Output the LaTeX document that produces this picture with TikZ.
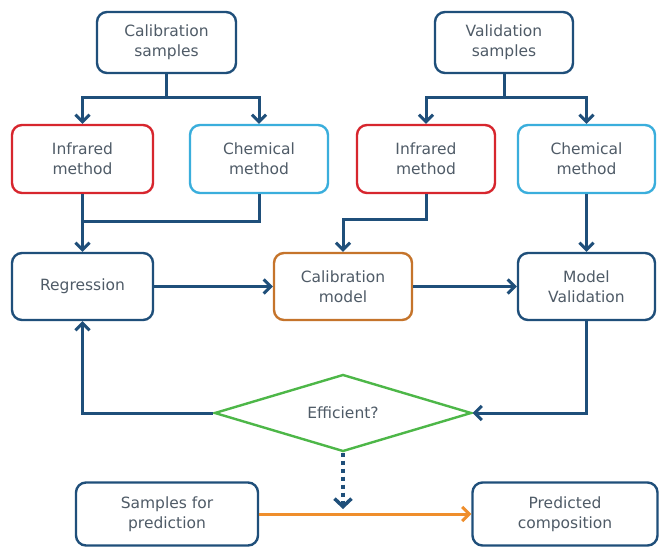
\documentclass[tikz,border=0pt]{standalone}
\usepackage{fontspec}
\setmainfont{DejaVu Sans}
\usetikzlibrary{shapes.geometric,arrows.meta}
\definecolor{navy}{HTML}{1F4F7A}
\definecolor{redb}{HTML}{D7262E}
\definecolor{lblue}{HTML}{3AAEDC}
\definecolor{brown}{HTML}{C5742B}
\definecolor{grn}{HTML}{4DB748}
\definecolor{orng}{HTML}{EF8E2C}
\definecolor{txt}{HTML}{4F5B67}
\tikzset{
  x=1pt, y=-1pt,
  box/.style={draw=navy, line width=2.4pt, rounded corners=10pt, fill=white,
    align=center, text=txt, inner sep=0pt,
    font=\fontsize{15.5}{20}\selectfont},
  conn/.style={draw=navy, line width=3pt},
  arr/.style={conn, -{Straight Barb[length=7pt,width=14pt,line width=3pt]}},
  oarr/.style={draw=orng, line width=3pt, -{Straight Barb[length=7pt,width=14pt,line width=3pt]}},
  darr/.style={draw=navy, line width=4pt, dash pattern=on 4pt off 4pt, -{Straight Barb[length=8pt,width=17pt,line width=3.5pt]}},
}
\begin{document}
\begin{tikzpicture}
\useasboundingbox[fill=white] (0,0) rectangle (659,548);
\node[box, minimum width=139pt, minimum height=61pt] (cs) at (166.5,42.5) {Calibration\\samples};
\node[box, minimum width=138pt, minimum height=61pt] (vs) at (504,42.5) {Validation\\samples};
\node[box, draw=redb, minimum width=141pt, minimum height=68pt] (irl) at (82.5,159) {Infrared\\method};
\node[box, draw=lblue, minimum width=138pt, minimum height=68pt] (chl) at (259,159) {Chemical\\method};
\node[box, draw=redb, minimum width=138pt, minimum height=68pt] (irr) at (426,159) {Infrared\\method};
\node[box, draw=lblue, minimum width=137pt, minimum height=68pt] (chr) at (586.5,159) {Chemical\\method};
\node[box, minimum width=141pt, minimum height=67pt] (reg) at (82.5,286.5) {Regression};
\node[box, draw=brown, minimum width=138pt, minimum height=67pt] (cal) at (343,286.5) {Calibration\\model};
\node[box, minimum width=137pt, minimum height=67pt] (mv) at (586.5,286.5) {Model\\Validation};
\node[diamond, aspect=3.34, draw=grn, line width=2.4pt, fill=white, text=txt, inner sep=0pt,
  minimum width=257pt, minimum height=77pt, font=\fontsize{15.5}{20}\selectfont] (dia) at (343,413) {Efficient?};
\node[box, minimum width=182pt, minimum height=63pt] (sp) at (167,514) {Samples for\\prediction};
\node[box, minimum width=185pt, minimum height=63pt] (pc) at (565,514) {Predicted\\composition};
\coordinate (j1) at (166.5,98);
\coordinate (j2) at (504,98);
\coordinate (m1) at (82.5,222);
\coordinate (m2) at (426,220);
\coordinate (dd) at (343,509);
% calibration split
\draw[conn] (cs.south) -- (j1);
\draw[arr] (j1) -| (irl.north);
\draw[arr] (j1) -| (chl.north);
% validation split
\draw[conn] (vs.south) -- (j2);
\draw[arr] (j2) -| (irr.north);
\draw[arr] (j2) -| (chr.north);
% merge to regression
\draw[arr] (irl.south) -- (reg.north);
\draw[conn] (chl.south) |- (m1);
% infrared right to calibration model
\draw[arr] (irr.south) -- (m2) -| (cal.north);
% chemical right to model validation
\draw[arr] (chr.south) -- (mv.north);
% horizontal flow
\draw[arr] (reg.east) -- (cal.west);
\draw[arr] (cal.east) -- (mv.west);
% loop
\draw[arr] (mv.south) |- (dia.east);
\draw[arr] (dia.west) -| (reg.south);
% prediction
\draw[oarr] (sp.east) -- (pc.west);
\draw[darr] (dia.south) -- (dd);
\end{tikzpicture}
\end{document}
